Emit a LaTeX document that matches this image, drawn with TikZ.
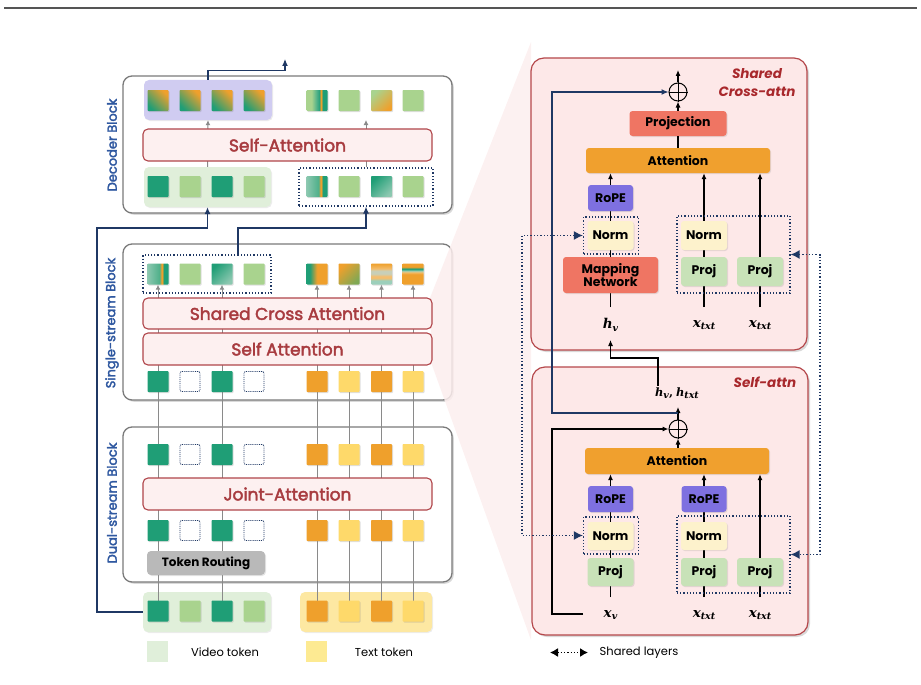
\documentclass[tikz,border=0pt]{standalone}
\usepackage{fontspec}
\setmainfont{Poppins}
\newfontfamily\pmed{Poppins}[FakeBold=2.5]
\newfontfamily\mserif{DejaVu Serif}
\newcommand\symlab[2]{{\mserif\bfseries\itshape #1\raisebox{-0.35ex}{\fontsize{9.5}{10}\selectfont #2}}}
\usetikzlibrary{arrows.meta,shadows,calc}
\definecolor{dgreen}{HTML}{1F9E76}
\definecolor{mgreen}{HTML}{4CAF88}
\definecolor{fteal}{HTML}{8CC8B0}
\definecolor{pteal}{HTML}{9CCFBB}
\definecolor{pgrey}{HTML}{C8CFB8}
\definecolor{lgreen}{HTML}{A9D38E}
\definecolor{torange}{HTML}{EFA02C}
\definecolor{lorange}{HTML}{F4BE6E}
\definecolor{peach}{HTML}{F6CDA8}
\definecolor{ogreen}{HTML}{7FA854}
\definecolor{tyellow}{HTML}{FED96A}
\definecolor{vgroup}{HTML}{E0EFDA}
\definecolor{tgroup}{HTML}{FDE8A2}
\definecolor{pgroup}{HTML}{D0CCF1}
\definecolor{attfill}{HTML}{FDF0F0}
\definecolor{attdraw}{HTML}{B0454A}
\definecolor{atttext}{HTML}{A83C40}
\definecolor{navy}{HTML}{1F3864}
\definecolor{blabel}{HTML}{2F58A0}
\definecolor{panelfill}{HTML}{FDE8E8}
\definecolor{paneldraw}{HTML}{B5474B}
\definecolor{titlec}{HTML}{A8282C}
\definecolor{orangebox}{HTML}{F0A02E}
\definecolor{salmon}{HTML}{EF7563}
\definecolor{ropec}{HTML}{7E70E0}
\definecolor{normc}{HTML}{FDF2CC}
\definecolor{projc}{HTML}{C8E2B8}
\definecolor{routec}{HTML}{B9B9B9}
\definecolor{fanc}{HTML}{FCEEEE}
\definecolor{blockd}{HTML}{7A7A7A}
\definecolor{rulec}{HTML}{555555}
\definecolor{grayl}{HTML}{8A8A8A}
\pgfdeclarehorizontalshading{stpA}{100bp}{color(0bp)=(lgreen); color(25bp)=(lgreen); color(37bp)=(lgreen); color(50bp)=(mgreen); color(57bp)=(dgreen); color(58bp)=(torange); color(62bp)=(torange); color(63bp)=(dgreen); color(75bp)=(dgreen); color(100bp)=(dgreen)}
\pgfdeclarehorizontalshading{stpB}{100bp}{color(0bp)=(fteal); color(25bp)=(fteal); color(55bp)=(mgreen); color(57bp)=(torange); color(61bp)=(torange); color(62bp)=(dgreen); color(75bp)=(dgreen); color(100bp)=(dgreen)}
\pgfdeclarehorizontalshading{hgrd}{100bp}{color(0bp)=(dgreen); color(25bp)=(dgreen); color(33bp)=(dgreen); color(50bp)=(torange); color(75bp)=(torange); color(100bp)=(torange)}
\pgfdeclareverticalshading{bnA}{100bp}{color(0bp)=(pteal); color(25bp)=(pteal); color(35bp)=(pteal); color(40bp)=(lorange); color(45bp)=(lorange); color(50bp)=(pgrey); color(58bp)=(pgrey); color(62bp)=(lorange); color(75bp)=(torange); color(100bp)=(torange)}
\pgfdeclareverticalshading{bnB}{100bp}{color(0bp)=(torange); color(25bp)=(torange); color(50bp)=(torange); color(54bp)=(lorange); color(58bp)=(pteal); color(61bp)=(dgreen); color(63bp)=(dgreen); color(66bp)=(torange); color(75bp)=(torange); color(100bp)=(torange)}
\pgfdeclarelayer{back}
\pgfdeclarelayer{mid}
\pgfsetlayers{back,mid,main}
\begin{document}
\begin{tikzpicture}[x=1pt,y=-1pt,
  tok/.style={minimum size=21pt, inner sep=0pt, rounded corners=0.8pt, drop shadow={shadow xshift=1pt, shadow yshift=-1pt, opacity=0.25}},
  dgt/.style={tok, fill=dgreen},
  lgt/.style={tok, fill=lgreen},
  ort/.style={tok, fill=torange},
  ylt/.style={tok, fill=tyellow},
  emt/.style={minimum size=20pt, inner sep=0pt, rounded corners=2pt, draw=navy, densely dotted, line width=0.9pt, fill=white},
  dgo/.style={tok, left color=dgreen, middle color=peach, right color=torange, shading angle=135},
  dlo/.style={tok, left color=lgreen, right color=torange, shading angle=45},
  dgt2/.style={tok, left color=dgreen, middle color=torange, right color=fteal, shading angle=45},
  stp/.style={tok, shading=stpA},
  stpb/.style={tok, shading=stpB},
  hgr/.style={tok, shading=hgrd},
  ocr/.style={tok, left color=torange, middle color=torange, right color=ogreen, shading angle=45},
  bna/.style={tok, shading=bnA},
  bnb/.style={tok, shading=bnB},
  block/.style={draw=blockd, line width=1.3pt, rounded corners=9pt, fill=white, inner sep=0pt, drop shadow={shadow xshift=1.8pt, shadow yshift=-1.8pt, opacity=0.3}},
  grp/.style={rounded corners=5pt, inner sep=0pt, drop shadow={shadow xshift=1pt, shadow yshift=-1pt, opacity=0.15}},
  dotb/.style={draw=navy, dotted, line width=1.2pt, inner sep=0pt},
  gl/.style={draw=grayl, line width=1pt},
  gtip/.style={-{Latex[length=5pt,width=5pt]}},
  navyl/.style={draw=navy, line width=1.1pt, -{Latex[length=7pt,width=6pt]}},
  attb/.style={draw=attdraw, fill=attfill, line width=1.1pt, rounded corners=5pt, text=atttext, font=\pmed\fontsize{17}{19}\selectfont, inner sep=0pt, minimum width=289pt},
  slab/.style={text=blabel, font=\pmed\fontsize{13}{15}\selectfont, rotate=90, inner sep=0pt},
  legt/.style={font=\fontsize{11.5}{13}\selectfont, inner sep=0pt},
  panel/.style={draw=paneldraw, fill=panelfill, line width=1.2pt, rounded corners=13pt, inner sep=0pt, drop shadow={shadow xshift=2pt, shadow yshift=-2pt, opacity=0.3}},
  rbox/.style={rounded corners=3pt, inner sep=0pt, font=\bfseries\fontsize{12.5}{14}\selectfont, drop shadow={shadow xshift=1pt, shadow yshift=-1pt, opacity=0.2}},
  attn/.style={rbox, fill=orangebox},
  prjn/.style={rbox, fill=salmon},
  rope/.style={rbox, fill=ropec, minimum width=45pt, minimum height=26pt},
  normb/.style={rbox, fill=normc, minimum width=46pt, minimum height=29pt},
  projb/.style={rbox, fill=projc, minimum width=46pt, minimum height=29pt},
  ttl/.style={text=titlec, font=\bfseries\itshape\fontsize{13.5}{16}\selectfont, inner sep=0pt},
  mlab/.style={font=\fontsize{13.5}{15}\selectfont, inner sep=0pt},
  blk/.style={draw=black, line width=1.1pt},
  btip/.style={-{Latex[length=6pt,width=5pt]}},
  shr/.style={draw=navy, dotted, line width=1.3pt, {Latex[length=9pt,width=9pt]}-{Latex[length=9pt,width=9pt]}}
]
\useasboundingbox (0,0) rectangle (921,685);
% top rule
\draw[rulec, line width=2pt] (4,8) -- (917,8);

\begin{pgfonlayer}{back}
% blocks
\node[block, minimum width=329pt, minimum height=137pt] (decb) at (287.5,144.5) {};
\node[block, minimum width=329pt, minimum height=156pt] (sinb) at (287.5,322) {};
\node[block, minimum width=329pt, minimum height=155pt] (dualb) at (287.5,504.5) {};
% fan
\fill[fanc, fill opacity=0.85] (430,298) -- (531,42) -- (531,640) -- (432,365) -- cycle;
% groups
\node[grp, fill=pgroup, minimum width=128pt, minimum height=40pt] (decpg) at (208,100) {};
\node[grp, fill=vgroup, minimum width=127pt, minimum height=40pt] (decvg) at (207.5,187) {};
\node[grp, fill=vgroup, minimum width=128pt, minimum height=40pt] (vin) at (207,612) {};
\node[grp, fill=tgroup, minimum width=132pt, minimum height=40pt] (tin) at (366,612) {};
% panels
\node[panel, minimum width=276pt, minimum height=292pt] (pcross) at (669,204) {};
\node[panel, minimum width=276pt, minimum height=268pt] (pself) at (670,501) {};
\end{pgfonlayer}

% dotted groups
\node[dotb, minimum width=134pt, minimum height=38pt] (decdot) at (366,187) {};
\node[dotb, minimum width=128pt, minimum height=38pt] (sdot) at (207,274) {};

% tokens
\foreach \x/\s [count=\i] in {158/dgo,190/dgo,222/dgo,254/dgo,317/stp,349/lgt,381.5/dlo,413/lgt}
  \node[\s] (cb\i) at (\x,100.5) {};
\foreach \x/\s [count=\i] in {158/dgt,190/lgt,222/dgt,254/lgt,317/stpb,349/lgt,381.5/dgt2,413/lgt}
  \node[\s] (ca\i) at (\x,186.5) {};
\foreach \x/\s [count=\i] in {158/stpb,190/lgt,222/dgt2,254/lgt,317/hgr,349/ocr,381.5/bna,413/bnb}
  \node[\s] (sb\i) at (\x,274) {};
\foreach \x/\s [count=\i] in {158/dgt,190/emt,222/dgt,254/emt,317/ort,349/ylt,381.5/ort,413/ylt}
  \node[\s] (sa\i) at (\x,381.5) {};
\foreach \x/\s [count=\i] in {158/dgt,190/emt,222/dgt,254/emt,317/ort,349/ylt,381.5/ort,413/ylt}
  \node[\s] (da\i) at (\x,454.5) {};
\foreach \x/\s [count=\i] in {158/dgt,190/emt,222/dgt,254/emt,317/ort,349/ylt,381.5/ort,413/ylt}
  \node[\s] (db\i) at (\x,530.5) {};
\foreach \x/\s [count=\i] in {158/dgt,190/lgt,222/dgt,254/lgt,317/ort,349/ylt,381.5/ort,413/ylt}
  \node[\s] (in\i) at (\x,611) {};

% gray lines
\begin{pgfonlayer}{mid}
\foreach \i in {1,3,5,6,7,8} {
  \draw[gl] (in\i.center) -- (sa\i.center);
  \draw[gl, gtip] (sa\i.center) -- (sb\i.south);
}
\coordinate (dr) at (366,120);
\draw[gl, gtip] (decvg.north) -- (decpg.south);
\draw[gl, gtip] (decdot.north) -- (dr);
\end{pgfonlayer}

% attention boxes
\node[attb, minimum height=32pt] (selfatt1) at (287.5,145) {Self-Attention};
\node[attb, minimum height=31pt] (scatt) at (287.5,313.5) {Shared Cross Attention};
\node[attb, minimum height=32pt] (selfatt2) at (287.5,349) {Self Attention};
\node[attb, minimum height=32pt] (joint) at (287.5,494) {Joint-Attention};
\node[fill=routec, rounded corners=4pt, inner sep=0pt, minimum width=118pt, minimum height=24pt, font=\bfseries\fontsize{12}{14}\selectfont, drop shadow={shadow xshift=1pt, shadow yshift=-1pt, opacity=0.2}] (troute) at (206,563) {Token Routing};

% side labels
\node[slab] (lab1) at (112,145) {Decoder Block};
\node[slab] (lab2) at (112,323) {Single-stream Block};
\node[slab] (lab3) at (112,503) {Dual-stream Block};

% navy connectors (left)
\coordinate (decout) at (285,59);
\draw[navyl] (vin.west) -| (97,420) |- (207.5,228) -- (decvg.south);
\draw[navyl] ($(sdot.north)+(31,0)$) |- (366,228) -- (decdot.south);
\draw[navyl] (decpg.north) -- ++(0,-9) -| (decout);

% legend (left)
\node[fill=vgroup, minimum size=21pt, inner sep=0pt] (legv) at (157.5,651.5) {};
\node[legt] (legvt) at (225,652) {Video token};
\node[fill=tgroup!90!yellow, minimum size=21pt, inner sep=0pt] (legtx) at (316.5,651.5) {};
\node[legt] (legtt) at (384,652) {Text token};

% ===== right: shared cross-attn panel =====
\node[ttl, anchor=base] (tc1) at (757,78) {Shared};
\node[ttl, anchor=base] (tc2) at (757,96) {Cross-attn};
\node[circle, draw=black, line width=1pt, minimum size=18pt, inner sep=0pt] (op1) at (678,92) {};
\draw[black, line width=1pt] (op1.north) -- (op1.south) (op1.west) -- (op1.east);
\node[prjn, minimum width=97pt, minimum height=25pt] (proj1) at (678,123.5) {Projection};
\node[attn, minimum width=184pt, minimum height=25pt] (att1) at (678,160.5) {Attention};
\node[rope] (rope1) at (610.5,198) {RoPE};
\node[dotb, minimum width=55pt, minimum height=37pt] (ldotA) at (611,235.5) {};
\node[normb] (norm1) at (610.5,235.5) {Norm};
\node[rbox, fill=salmon, minimum width=95pt, minimum height=36pt, align=center, font=\bfseries\fontsize{12.5}{13.5}\selectfont] (map1) at (610.5,275) {Mapping\\Network};
\node[dotb, minimum width=113pt, minimum height=77pt] (rdotA) at (733.5,254.5) {};
\node[normb] (norm2) at (704,235.5) {Norm};
\node[projb] (proj2) at (704,271.5) {Proj};
\node[projb] (proj3) at (760,271.5) {Proj};
\node[mlab] (hv1) at (610.5,325) {\symlab{h}{v}};
\node[mlab] (xt1) at (704,325) {\symlab{x}{txt}};
\node[mlab] (xt2) at (760,325) {\symlab{x}{txt}};
\coordinate (c1b) at (610.5,307);
\coordinate (c2b) at (704,307);
\coordinate (c3b) at (760,307);
\coordinate (out1) at (678,70);
\begin{pgfonlayer}{mid}
\draw[blk] (c1b) -- (rope1.south);
\draw[blk, btip] (c2b) -- (c2b |- att1.south);
\draw[blk, btip] (c3b) -- (c3b |- att1.south);
\end{pgfonlayer}
\draw[blk, btip] (rope1.north) -- (rope1.north |- att1.south);
\draw[blk] (att1.north) -- (proj1.south);
\draw[blk, btip] (proj1.north) -- (op1.south);
\draw[blk, btip] (op1.north) -- (out1);

% ===== right: self-attn panel =====
\node[ttl, anchor=base] (ts1) at (765,387) {Self-attn};
\node[font=\fontsize{11.5}{13}\selectfont, inner sep=0pt] (hvh) at (677,393) {\symlab{h}{v}{\mserif\bfseries ,} \symlab{h}{txt}};
\node[circle, draw=black, line width=1pt, minimum size=18pt, inner sep=0pt] (op2) at (678,429) {};
\draw[black, line width=1pt] (op2.north) -- (op2.south) (op2.west) -- (op2.east);
\node[attn, minimum width=184pt, minimum height=26pt] (att2) at (677,461) {Attention};
\node[rope] (ropeL) at (610.5,499) {RoPE};
\node[rope] (ropeM) at (704,499) {RoPE};
\node[dotb, minimum width=55pt, minimum height=37pt] (ldotB) at (611,535.5) {};
\node[dotb, minimum width=113pt, minimum height=77pt] (rdotB) at (733.5,554.5) {};
\node[normb, minimum height=28pt] (normL) at (610.5,536) {Norm};
\node[normb, minimum height=28pt] (normM) at (704,536) {Norm};
\node[projb, minimum height=28pt] (projL) at (610.5,572) {Proj};
\node[projb, minimum height=28pt] (projM) at (704,572) {Proj};
\node[projb, minimum height=28pt] (projR) at (760,572) {Proj};
\node[mlab] (xv) at (610.5,615) {\symlab{x}{v}};
\node[mlab] (xt3) at (704,615) {\symlab{x}{txt}};
\node[mlab] (xt4) at (760,615) {\symlab{x}{txt}};
\coordinate (d1b) at (610.5,597);
\coordinate (d2b) at (704,597);
\coordinate (d3b) at (760,597);
\coordinate (o2t) at (678,407);
\coordinate (brc) at (678,413);
\coordinate (xvr) at (583,614);
\coordinate (hvs) at (658,386);
\coordinate (hvt) at (610.5,340);
\begin{pgfonlayer}{mid}
\draw[blk] (d1b) -- (ropeL.south);
\draw[blk] (d2b) -- (ropeM.south);
\draw[blk, btip] (d3b) -- (d3b |- att2.south);
\end{pgfonlayer}
\draw[blk, btip] (ropeL.north) -- (ropeL.north |- att2.south);
\draw[blk, btip] (ropeM.north) -- (ropeM.north |- att2.south);
\draw[blk, btip] (op2.south |- att2.north) -- (op2.south);
\draw[blk, btip] (op2.north) -- (o2t);
\draw[blk, btip] (xvr) -| (552,500) |- (op2.west);
\draw[navyl] (brc) -| (552,250) |- (op1.west);
\draw[blk, btip] (hvs) -- ++(0,-28) -| (hvt);

% shared-layer connectors
\draw[shr] (ldotA.west) -| (522,385) |- (ldotB.west);
\draw[shr] (rdotA.east) -| (820,400) |- (rdotB.east);

% legend (right)
\coordinate (lg1) at (550,652.5);
\coordinate (lg2) at (588,652.5);
\draw[shr, draw=black, {Latex[length=8pt,width=9pt]}-{Latex[length=8pt,width=9pt]}] (lg1) -- (lg2);
\node[legt] (lgsh) at (639,652.5) {Shared layers};
\end{tikzpicture}
\end{document}
